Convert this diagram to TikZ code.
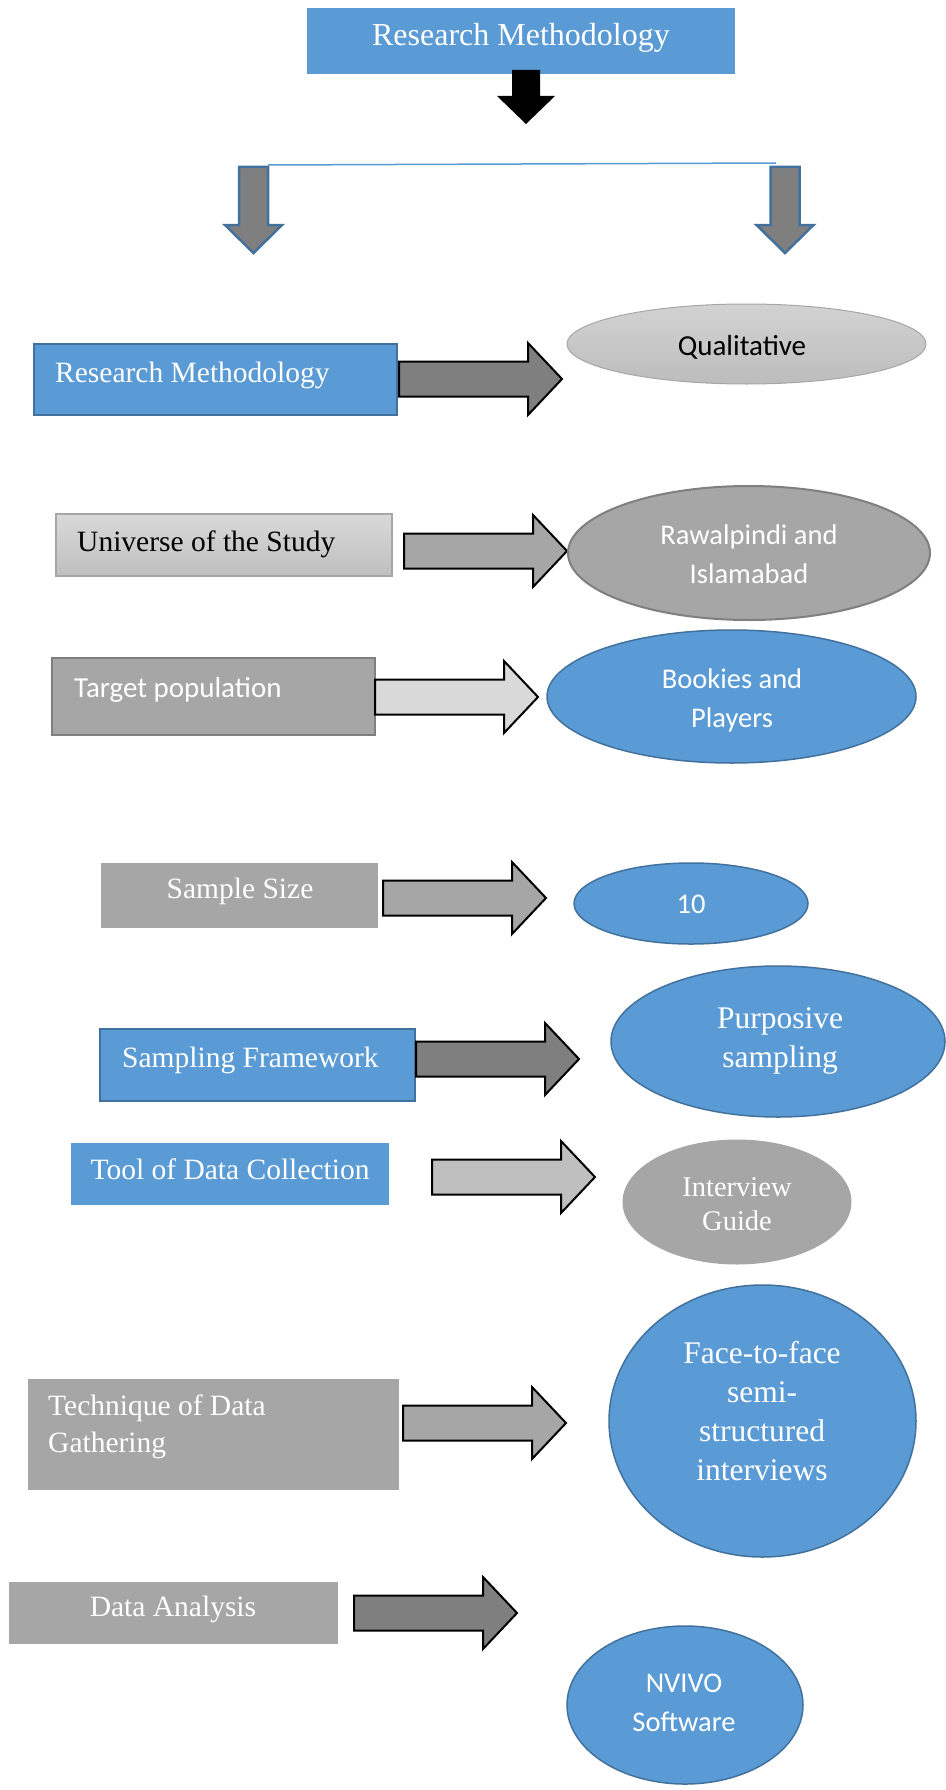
\documentclass[tikz,border=0pt]{standalone}
\usepackage{fontspec}
\setmainfont{Liberation Serif}
\newfontfamily\calfont{Carlito}
\usetikzlibrary{shapes.geometric}
\definecolor{bluef}{HTML}{5B9BD5}
\definecolor{blueb}{HTML}{41719C}
\definecolor{gA}{HTML}{A6A6A6}
\definecolor{gD}{HTML}{7F7F7F}
\definecolor{gL}{HTML}{D9D9D9}
\definecolor{gB}{HTML}{BFBFBF}
\newcommand\sz[2]{\fontsize{#1}{#2}\selectfont}
\begin{document}
\begin{tikzpicture}[x=1pt,y=-1pt,
  bx/.style={rectangle, inner sep=0pt},
  el/.style={ellipse, inner sep=0pt},
  bluebox/.style={bx, fill=bluef, draw=blueb, line width=1.5pt},
  blueel/.style={el, fill=bluef, draw=blueb, line width=1.5pt},
  wt/.style={inner sep=0pt, text=white, align=center},
  bt/.style={inner sep=0pt, text=black, align=center},
  serA/.style={font=\sz{29.5}{37}},
  serB/.style={font=\sz{31.5}{39}},
  calA/.style={font=\calfont\sz{28.5}{38.5}},
  arrowline/.style={draw=black, line width=2pt, line join=miter},
  pics/harrow/.style={code={\draw[arrowline, fill=#1] (0,-17.5) -- (129,-17.5) -- (129,-36) -- (163,0) -- (129,36) -- (129,17.5) -- (0,17.5) -- cycle;}},
  pics/vgrey/.style={code={\draw[draw=blueb, line width=2.5pt, fill=gD, line join=miter] (-14.5,0) -- (-14.5,58) -- (-28.5,58) -- (0,86) -- (28.5,58) -- (14.5,58) -- (14.5,0) -- cycle;}},
  pics/vblack/.style={code={\fill[black] (-14,0) -- (-14,26) -- (-29,26) -- (0,54) -- (29,26) -- (14,26) -- (14,0) -- cycle;}}
]
\useasboundingbox (0,0) rectangle (945,1790);

% top
\node[bx, fill=bluef, minimum width=428pt, minimum height=66pt] (top) at (521,41) {};
\node[wt, font=\sz{32}{38}, anchor=base] (topt) at (521,46) {Research Methodology};
\pic at (526,70) {vblack};
\coordinate (bl) at (268,165);
\coordinate (br) at (776,163);
\draw[bluef, line width=1.5pt] (bl) -- (br);
\pic at (253.5,167) {vgrey};
\pic at (785,167) {vgrey};

% row 1
\node[bluebox, minimum width=363pt, minimum height=71pt] (rm) at (215.5,379.5) {};
\node[wt, serA, anchor=base west] (rmt) at (55,382) {Research Methodology};
\pic at (399,379) {harrow=gD};
\node[el, top color=gray!35, bottom color=gray!52, draw=gA, line width=1pt, minimum width=359pt, minimum height=80pt] (qual) at (746.5,344) {};
\node[bt, font=\calfont\sz{29}{35}, anchor=base] (qualt) at (742,355) {Qualitative};

% row 2
\node[bx, top color=gL, bottom color=gB, draw=gA, line width=1.5pt, minimum width=336pt, minimum height=62pt] (uni) at (224,545) {};
\node[bt, serA, anchor=base west] (unit) at (77,551) {Universe of the Study};
\pic at (404,551) {harrow=gA};
\node[el, fill=gA, draw=gD, line width=2pt, minimum width=362pt, minimum height=134pt] (raw) at (749,553) {};
\node[wt, calA, anchor=base] (rawt) at (749,583) {Rawalpindi and\\Islamabad};

% row 3
\node[bx, fill=gA, draw=gD, line width=2pt, minimum width=323pt, minimum height=77pt] (tp) at (213.5,696.5) {};
\node[wt, font=\calfont\sz{29}{35}, anchor=base west] (tpt) at (74,697) {Target population};
\pic at (375,697) {harrow=gL};
\node[blueel, minimum width=369pt, minimum height=133pt] (bk) at (731.5,696.5) {};
\node[wt, calA, anchor=base] (bkt) at (732,727) {Bookies and\\Players};

% row 4
\node[bx, fill=gA, minimum width=277pt, minimum height=65pt] (ss) at (239.5,895.5) {};
\node[wt, serA, anchor=base] (sst) at (240,898) {Sample Size};
\pic at (383,898) {harrow=gA};
\node[blueel, minimum width=234pt, minimum height=81pt] (ten) at (691,903.5) {};
\node[wt, calA, anchor=base] (tent) at (691,913) {10};

% row 5
\node[bluebox, minimum width=315pt, minimum height=72pt] (sf) at (257.5,1065) {};
\node[wt, serA, anchor=base west] (sft) at (122,1067) {Sampling Framework};
\pic at (416,1059) {harrow=gD};
\node[blueel, minimum width=334pt, minimum height=151pt] (pur) at (778,1041.5) {};
\node[wt, serB, anchor=base] (purt) at (780,1067) {Purposive\\sampling};

% row 6
\node[bx, fill=bluef, minimum width=318pt, minimum height=62pt] (tool) at (230,1174) {};
\node[wt, serA, anchor=base] (toolt) at (230,1179) {Tool of Data Collection};
\pic at (432,1177) {harrow=gB};
\node[el, fill=gA, minimum width=229pt, minimum height=125pt] (iv) at (737,1202) {};
\node[wt, font=\sz{28.5}{34}, anchor=base] (ivt) at (737,1230) {Interview\\Guide};

% row 7
\node[bx, fill=gA, minimum width=371pt, minimum height=111pt] (tech) at (213.5,1434.5) {};
\node[wt, serA, align=left, anchor=base west] (techt) at (48,1452) {Technique of Data\\Gathering};
\pic at (403,1423) {harrow=gA};
\node[blueel, minimum width=307pt, minimum height=272pt] (face) at (762.5,1421) {};
\node[wt, serB, anchor=base] (facet) at (762,1480) {Face-to-face\\semi-\\structured\\interviews};

% row 8
\node[bx, fill=gA, minimum width=329pt, minimum height=62pt] (da) at (173.5,1613) {};
\node[wt, serA, anchor=base] (dat) at (173,1616) {Data Analysis};
\pic at (354,1613) {harrow=gD};
\node[blueel, minimum width=236pt, minimum height=158pt] (nv) at (685,1705) {};
\node[wt, calA, anchor=base] (nvt) at (684,1731) {NVIVO\\Software};
\end{tikzpicture}
\end{document}
